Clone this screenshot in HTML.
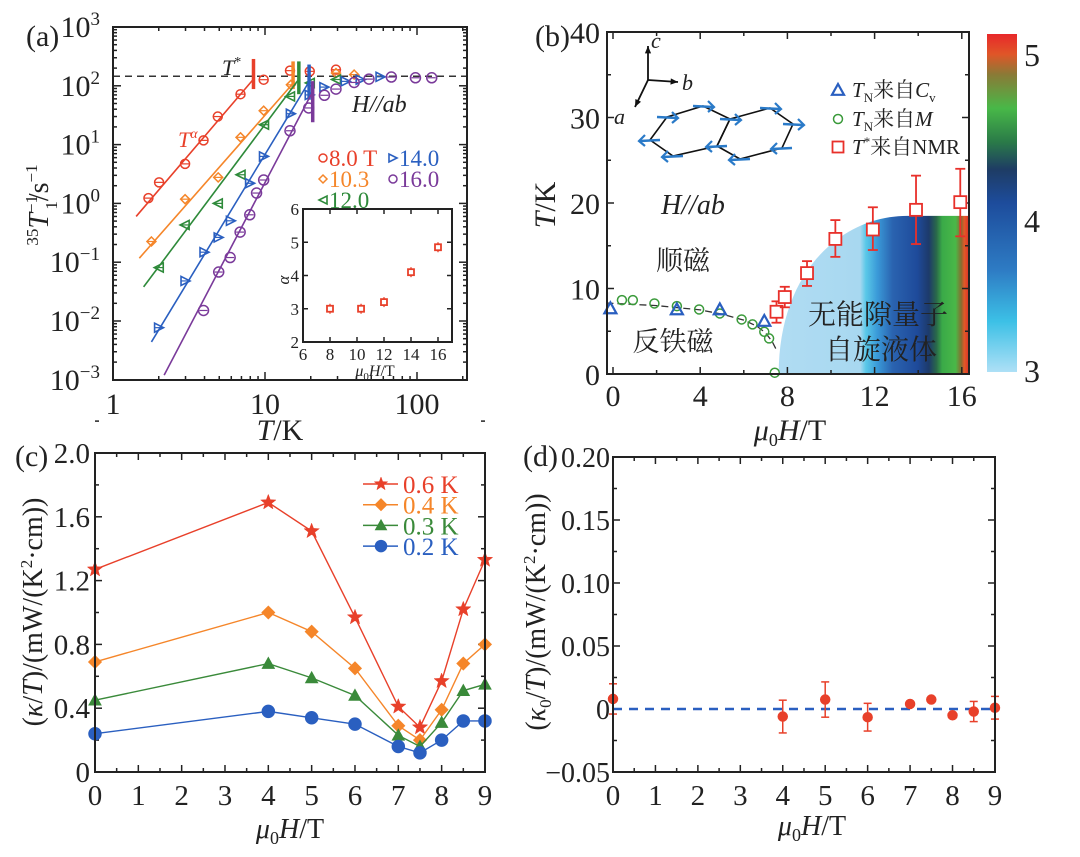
<!DOCTYPE html>
<html><head><meta charset="utf-8">
<style>
html,body{margin:0;padding:0;background:#fff;}
svg{display:block;}
text{font-family:"Liberation Serif","Noto Serif CJK SC",serif;}
</style></head>
<body>
<svg id="fig" width="1080" height="857" viewBox="0 0 1080 857" xmlns="http://www.w3.org/2000/svg">
<defs>
<linearGradient id="slg" gradientUnits="userSpaceOnUse" x1="778" y1="0" x2="969" y2="0">
<stop offset="0" stop-color="#b0dcf3"/><stop offset="0.43" stop-color="#a8d8f0"/>
<stop offset="0.46" stop-color="#5ac8e8"/><stop offset="0.52" stop-color="#3a9ad8"/>
<stop offset="0.60" stop-color="#2a63b0"/><stop offset="0.73" stop-color="#1e4a9a"/>
<stop offset="0.79" stop-color="#1d3a6a"/><stop offset="0.83" stop-color="#2a6a4a"/>
<stop offset="0.86" stop-color="#3aaa48"/><stop offset="0.93" stop-color="#4ab848"/>
<stop offset="0.96" stop-color="#8a6a30"/><stop offset="0.975" stop-color="#e05a28"/>
<stop offset="1" stop-color="#e03028"/>
</linearGradient>
<linearGradient id="cbg" x1="0" y1="1" x2="0" y2="0">
<stop offset="0" stop-color="#aee0f6"/><stop offset="0.15" stop-color="#3cc0e6"/>
<stop offset="0.3" stop-color="#2e7cc4"/><stop offset="0.5" stop-color="#1d4c9c"/>
<stop offset="0.6" stop-color="#1e3c64"/><stop offset="0.68" stop-color="#2a7a48"/>
<stop offset="0.78" stop-color="#48b848"/><stop offset="0.88" stop-color="#8a7a36"/>
<stop offset="0.94" stop-color="#e05628"/><stop offset="1" stop-color="#e8282a"/>
</linearGradient>
</defs>
</svg>
<script>
// ---------- Panel (a) data ----------
const aRedT=[1.71,2.01,2.98,3.94,4.89,6.9,9.8,14.6,19.7,29.3];
const aRedV=[1.23,2.28,4.7,11.8,30,72,127,181,176,188];
const aOrT=[1.79,2.98,4.92,6.9,9.8,14.8,29.3,38.6];
const aOrV=[0.225,1.18,2.77,13.3,37.7,104,165,155];
const aGrT=[2.0,2.96,4.89,6.9,9.85,14.6,19.7,29.3];
const aGrV=[0.081,0.43,1.0,3.07,21.8,66,112,128];
const aBlT=[2.01,3.0,4.0,4.96,5.97,7.98,9.85,14.8,19.7,24.6,34,42.6,57.6];
const aBlV=[0.0077,0.048,0.148,0.264,0.506,2.2,6.3,33.5,70,95,119,127,142];
const aPuT=[3.94,4.96,5.9,6.86,7.94,8.8,9.8,14.6,19.4,24.6,29.3,38.6,48.3,67.8,97.7,125];
const aPuV=[0.0151,0.068,0.12,0.325,0.64,1.5,2.5,17.2,42,69,88,114,130,141,137,137];
const aFitT0=[1.42,1.49,1.59,1.79,2.17];
const aFitV0=[0.6,0.117,0.038,0.0044,0.0012];
const aFitT1=[8.4,15.7,16.9,19.6,20.1];
const aFitV1=[130,119,135,120,71];
const aStarT=[8.4,15.3,16.7,19.5,20.6];
const aStarLo=[88,88,72,58,24];
const aStarHi=[286,260,260,230,120];
const aPlateau=145;
const inH=[8,10.3,12,14,16];
const inA=[3.0,3.0,3.2,4.1,4.85];
const inErr=[0.15,0.15,0.15,0.15,0.15];
// ---------- Panel (b) data ----------
const bCvH=[-0.12,2.93,4.9,6.94];
const bCvT=[7.67,7.55,7.55,6.2];
const bMH=[0.41,0.91,1.9,2.93,3.95,4.9,5.9,6.4,6.94,7.16,7.42];
const bMT=[8.64,8.64,8.25,7.94,7.55,7.08,6.38,5.8,4.94,4.16,0.15];
const bNH=[7.5,7.88,8.9,10.2,11.92,13.9,15.93];
const bNT=[7.28,9.0,11.8,15.8,16.9,19.2,20.1];
const bNLo=[6.0,7.8,10.3,13.7,14.5,15.2,16.1];
const bNHi=[8.5,10.2,13.2,18.0,19.5,23.2,24.0];
const bGuideH=[-0.3,2,4,5,6,6.6,7.0,7.3,7.5];
const bGuideT=[8.3,8.0,7.5,7.0,6.3,5.6,4.8,3.8,2.8];
// ---------- Panel (c) data ----------
const cH=[0,4,5,6,7,7.5,8,8.5,9];
const c06=[1.27,1.69,1.51,0.97,0.41,0.28,0.57,1.02,1.33];
const c04=[0.69,1.00,0.88,0.65,0.29,0.20,0.39,0.68,0.80];
const c03=[0.45,0.68,0.59,0.48,0.23,0.16,0.31,0.51,0.55];
const c02=[0.24,0.38,0.34,0.30,0.16,0.12,0.20,0.32,0.32];
const cLegend=["0.6 K","0.4 K","0.3 K","0.2 K"];
const cYTicks=["0","0.4","0.8","1.2","1.6","2.0"];
// ---------- Panel (d) data ----------
const dH=[0,4,5,6,7,7.5,8,8.5,9];
const dV=[0.008,-0.006,0.0075,-0.0065,0.004,0.0075,-0.005,-0.002,0.001];
const dE=[0.012,0.013,0.014,0.011,0.002,0.001,0.001,0.008,0.009];
const dYTicks=["\u22120.05","0","0.05","0.10","0.15","0.20"];

const svg=document.getElementById('fig');
const NS='http://www.w3.org/2000/svg';
const FONT='"Liberation Serif","Noto Serif CJK SC",serif';
function mk(tag,attrs,parent){
  const e=document.createElementNS(NS,tag);
  for(const k in attrs)e.setAttribute(k,attrs[k]);
  (parent||svg).appendChild(e);
  return e;
}
function named(e,n){
  
  
  return e;
}
function txt(x,y,s,size,opt,parent){
  opt=opt||{};
  const t=mk('text',{x:x,y:y,'font-size':size,fill:opt.fill||'#222','text-anchor':opt.anchor||'start','font-family':FONT},parent);
  if(opt.italic)t.setAttribute('font-style','italic');
  if(opt.rot)t.setAttribute('transform','rotate(-90 '+x+' '+y+')');
  t.innerHTML=s;
  return t;
}
function g(name){const e=mk('g',{});named(e,name);return e;}

const ax=T=>113+152*Math.log10(T), ay=v=>27+(3-Math.log10(v))*58.8;
const ix=h=>303+(h-6)*13.5, iy=a=>342-(a-2)*33.25;
const bx=h=>613+21.8*h, by=t=>374-8.55*t;
const cx=h=>95+43.33*h, cy=v=>772-159.5*v;
const dx=h=>613+42.44*h, dy=v=>772-(v+0.05)*1260;

function frame(x0,y0,x1,y1,name){
  const r=mk('rect',{x:x0,y:y0,width:x1-x0,height:y1-y0,fill:'none',stroke:'#222','stroke-width':2});
  named(r,name);
}
function tickX(px,y0,y1,len,par){mk('line',{x1:px,y1:y1,x2:px,y2:y1-len,stroke:'#222','stroke-width':1.5},par);mk('line',{x1:px,y1:y0,x2:px,y2:y0+len,stroke:'#222','stroke-width':1.5},par);}
function tickY(py,x0,x1,len,par){mk('line',{x1:x0,y1:py,x2:x0+len,y2:py,stroke:'#222','stroke-width':1.5},par);mk('line',{x1:x1,y1:py,x2:x1-len,y2:py,stroke:'#222','stroke-width':1.5},par);}

function marker(type,x,y,col,r,fill,par){
  let e;
  if(type==='circle')e=mk('circle',{cx:x,cy:y,r:r,fill:fill?col:'none',stroke:col,'stroke-width':1.5},par);
  else if(type==='square')e=mk('rect',{x:x-r,y:y-r,width:2*r,height:2*r,fill:fill?col:'#fff',stroke:col,'stroke-width':1.8},par);
  else if(type==='diamond')e=mk('polygon',{points:`${x},${y-r} ${x+r},${y} ${x},${y+r} ${x-r},${y}`,fill:fill?col:'none',stroke:col,'stroke-width':1.5},par);
  else if(type==='tri')e=mk('polygon',{points:`${x},${y-r} ${x+r},${y+r*0.8} ${x-r},${y+r*0.8}`,fill:fill?col:'none',stroke:col,'stroke-width':fill?1:2.2},par);
  else if(type==='left')e=mk('polygon',{points:`${x-r},${y} ${x+r},${y-r} ${x+r},${y+r}`,fill:fill?col:'none',stroke:col,'stroke-width':1.6},par);
  else if(type==='right')e=mk('polygon',{points:`${x+r},${y} ${x-r},${y-r} ${x-r},${y+r}`,fill:fill?col:'none',stroke:col,'stroke-width':1.6},par);
  else if(type==='star'){let p=[];for(let i=0;i<10;i++){const a=-Math.PI/2+i*Math.PI/5,rr=i%2?r*0.42:r;p.push((x+rr*Math.cos(a)).toFixed(1)+','+(y+rr*Math.sin(a)).toFixed(1));}e=mk('polygon',{points:p.join(' '),fill:col,stroke:col,'stroke-width':0.5},par);}
  return e;
}

// ================= Panel (a) =================
{
const P=g('panel-a');
txt(26,46,'(a)',30,{},P);
frame(113,27,467,380,'panel-a-frame');
const dec=[-3,-2,-1,0,1,2,3];
dec.forEach(d=>{
  const py=ay(Math.pow(10,d));
  const l=txt(100,py+10,'10<tspan dy="-12" font-size="19">'+(d<0?'\u2212'+(-d):d)+'</tspan>',30,{anchor:'end'},P);
  named(l,'y-tick-label');
  tickY(py,113,467,8,P);
  if(d<3)for(let m=2;m<10;m++)tickY(ay(m*Math.pow(10,d)),113,467,4,P);
});
[1,10,100].forEach(T=>{const l=txt(ax(T),414,String(T),30,{anchor:'middle'},P);named(l,'x-tick-label');tickX(ax(T),27,380,8,P);});
for(let d=0;d<3;d++)for(let m=2;m<10;m++){const T=m*Math.pow(10,d);if(T<213)tickX(ax(T),27,380,4,P);}
named(txt(280,440,'<tspan font-style="italic">T</tspan>/K',30,{anchor:'middle'},P),'x-axis-title');
named(txt(48,205,'<tspan dy="-10" font-size="17">35</tspan><tspan dy="10" font-style="italic">T</tspan><tspan dy="-11" font-size="17">\u22121</tspan><tspan dx="-14" dy="20" font-size="17">1</tspan><tspan dy="-9">/s</tspan><tspan dy="-11" font-size="17">\u22121</tspan>',28,{anchor:'middle',rot:true},P),'y-axis-title');
named(mk('line',{x1:113,y1:ay(aPlateau),x2:467,y2:ay(aPlateau),stroke:'#333','stroke-width':1.5,'stroke-dasharray':'7,5'},P),'plateau-dashed-line');
const cols=['#e8402a','#f5862a','#2e8a3a','#2a5fc0','#7a3a9a'];
const series=[[aRedT,aRedV,'circle'],[aOrT,aOrV,'diamond'],[aGrT,aGrV,'left'],[aBlT,aBlV,'right'],[aPuT,aPuV,'circle']];
const names=['8T','10.3T','12T','14T','16T'];
for(let i=0;i<5;i++){
  const fl=mk('line',{x1:ax(aFitT0[i]),y1:ay(aFitV0[i]),x2:ax(aFitT1[i]),y2:ay(aFitV1[i]),stroke:cols[i],'stroke-width':1.6},P);
  named(fl,'fit-line-'+names[i]);
  const st=mk('line',{x1:ax(aStarT[i]),y1:ay(aStarLo[i]),x2:ax(aStarT[i]),y2:ay(aStarHi[i]),stroke:cols[i],'stroke-width':3.5},P);
  named(st,'tstar-marker-'+names[i]);
  const [T,V,ty]=series[i];
  for(let j=0;j<T.length;j++){
    const x=ax(T[j]),y=ay(V[j]);
    const m=marker(ty,x,y,cols[i],i==4?5:4.5,false,P);
    named(m,'point-'+names[i]);
    mk('line',{x1:x-4,y1:y,x2:x+4,y2:y,stroke:cols[i],'stroke-width':1.2},P);
  }
}
named(txt(222,75,'<tspan font-style="italic">T</tspan><tspan dy="-9" font-size="14">*</tspan>',22,{},P),'tstar-label');
named(txt(178,147,'<tspan font-style="italic">T</tspan><tspan dy="-9" font-size="14" font-style="italic">\u03b1</tspan>',22,{fill:'#e8402a'},P),'power-law-label');
named(txt(352,112,'H//ab',24,{italic:true},P),'field-direction-label');
const lg=[['8.0 T',329,158,cols[0],'circle'],['10.3',329,179,cols[1],'diamond'],['12.0',329,200,cols[2],'left'],['14.0',399,158,cols[3],'right'],['16.0',399,179,cols[4],'circle']];
lg.forEach(l=>{marker(l[4],l[1]-6,l[2],l[3],4,false,P);named(txt(l[1],l[2]+8,l[0],23,{fill:l[3]},P),'legend-entry');});
// inset
frame(303,209,452,342,'inset-frame');
[2,3,4,5,6].forEach(a=>{named(txt(299,iy(a)+6,String(a),17,{anchor:'end'},P),'inset-y-tick-label');tickY(iy(a),303,452,5,P);});
[6,8,10,12,14,16].forEach(h=>{named(txt(ix(h),360,String(h),17,{anchor:'middle'},P),'inset-x-tick-label');tickX(ix(h),209,342,5,P);});
named(txt(375,376,'<tspan font-style="italic">\u03bc</tspan><tspan font-size="11" dy="4">0</tspan><tspan dy="-4" font-style="italic">H</tspan>/T',16,{anchor:'middle'},P),'inset-x-title');
named(txt(289,280,'\u03b1',17,{italic:true,rot:true,anchor:'middle'},P),'inset-y-title');
for(let i=0;i<inH.length;i++){
  const x=ix(inH[i]),y=iy(inA[i]);
  mk('line',{x1:x,y1:iy(inA[i]-inErr[i]),x2:x,y2:iy(inA[i]+inErr[i]),stroke:'#e8402a','stroke-width':1.3},P);
  named(marker('square',x,y,'#e8402a',3,false,P),'inset-alpha-point');
}
}

// ================= Panel (b) =================
{
const P=g('panel-b');
txt(535,46,'(b)',30,{},P);
const sl=mk('path',{d:`M${bx(7.6)},${by(0)} C${bx(7.6)},${by(12)} ${bx(10.5)},${by(18.5)} ${bx(13.5)},${by(18.5)} L${bx(16.3)},${by(18.5)} L${bx(16.3)},${by(0)} Z`,fill:'url(#slg)'},P);
named(sl,'spin-liquid-region');
frame(607,32,969,374,'panel-b-frame');
[0,10,20,30,40].forEach(t=>{named(txt(600,by(t)+11,String(t),30,{anchor:'end'},P),'y-tick-label');tickY(by(t),607,969,7,P);});
[5,15,25,35].forEach(t=>tickY(by(t),607,969,4,P));
[0,4,8,12,16].forEach(h=>{named(txt(bx(h),406,String(h),30,{anchor:'middle'},P),'x-tick-label');tickX(bx(h),32,374,7,P);});
[2,6,10,14].forEach(h=>tickX(bx(h),32,374,4,P));
named(txt(790,440,'<tspan font-style="italic">\u03bc</tspan><tspan font-size="18" dy="6">0</tspan><tspan dy="-6" font-style="italic">H</tspan>/T',30,{anchor:'middle'},P),'x-axis-title');
named(txt(555,205,'<tspan font-style="italic">T</tspan>/K',30,{anchor:'middle',rot:true},P),'y-axis-title');
named(mk('polyline',{points:bGuideH.map((h,i)=>bx(h)+','+by(bGuideT[i])).join(' '),fill:'none',stroke:'#333','stroke-width':1.3,'stroke-dasharray':'7,4'},P),'afm-boundary');
for(let i=0;i<bMH.length;i++)named(marker('circle',bx(bMH[i]),by(bMT[i]),'#3a9a3a',4.5,false,P),'tn-from-m-point');
for(let i=0;i<bCvH.length;i++)named(marker('tri',bx(bCvH[i]),by(bCvT[i]),'#2a5fc0',6,false,P),'tn-from-cv-point');
for(let i=0;i<bNH.length;i++){
  const x=bx(bNH[i]);
  mk('line',{x1:x,y1:by(bNLo[i]),x2:x,y2:by(bNHi[i]),stroke:'#e8302a','stroke-width':1.8},P);
  mk('line',{x1:x-5,y1:by(bNLo[i]),x2:x+5,y2:by(bNLo[i]),stroke:'#e8302a','stroke-width':1.8},P);
  mk('line',{x1:x-5,y1:by(bNHi[i]),x2:x+5,y2:by(bNHi[i]),stroke:'#e8302a','stroke-width':1.8},P);
  named(marker('square',x,by(bNT[i]),'#e8302a',6,false,P),'tstar-nmr-point');
}
const ar=(x1,y1,x2,y2)=>{mk('line',{x1,y1,x2,y2,stroke:'#111','stroke-width':1.8},P);const a=Math.atan2(y2-y1,x2-x1);mk('polygon',{points:`${x2},${y2} ${x2-8*Math.cos(a-0.4)},${y2-8*Math.sin(a-0.4)} ${x2-8*Math.cos(a+0.4)},${y2-8*Math.sin(a+0.4)}`,fill:'#111'},P);};
ar(648,80,648,46);ar(648,80,678,82);ar(648,80,635,107);
txt(651,48,'c',22,{italic:true},P);txt(682,90,'b',22,{italic:true},P);txt(614,124,'a',22,{italic:true},P);
const h1=[[667,117],[703,106],[730,119],[717,146],[673,156],[650,140]];
const h2=[[730,119],[770,108],[793,124],[782,148],[740,159],[717,146]];
[h1,h2].forEach(h=>named(mk('polygon',{points:h.map(p=>p.join(',')).join(' '),fill:'none',stroke:'#111','stroke-width':1.6},P),'honeycomb-lattice'));
const spins=[[667,117,1],[703,106,1],[730,119,1],[770,108,1],[793,124,1],[650,140,-1],[717,146,-1],[673,156,-1],[740,159,-1],[782,148,-1]];
spins.forEach(s=>{const x=s[0],y=s[1],d=s[2];mk('line',{x1:x-10*d,y1:y,x2:x+10*d,y2:y+1,stroke:'#2a7ac8','stroke-width':2.5},P);mk('polyline',{points:`${x+5*d},${y-5} ${x+11*d},${y+1} ${x+5*d},${y+6}`,fill:'none',stroke:'#2a7ac8','stroke-width':2.2},P);});
named(marker('tri',838,90,'#2a5fc0',6,false,P),'legend-cv-marker');
named(txt(852,97,'<tspan font-style="italic">T</tspan><tspan font-size="13" dy="5">N</tspan><tspan dy="-5">来自</tspan><tspan font-style="italic">C</tspan><tspan font-size="13" dy="5">v</tspan>',21,{},P),'legend-entry');
named(marker('circle',838,119,'#3a9a3a',4.5,false,P),'legend-m-marker');
named(txt(852,126,'<tspan font-style="italic">T</tspan><tspan font-size="13" dy="5">N</tspan><tspan dy="-5">来自</tspan><tspan font-style="italic">M</tspan>',21,{},P),'legend-entry');
named(marker('square',838,147,'#e8302a',5.5,false,P),'legend-nmr-marker');
named(txt(852,154,'<tspan font-style="italic">T</tspan><tspan font-size="13" dy="-8">*</tspan><tspan dy="8">来自NMR</tspan>',21,{},P),'legend-entry');
named(txt(693,214,'H//ab',28,{italic:true,anchor:'middle'},P),'field-direction-label');
named(txt(683,270,'顺磁',27,{anchor:'middle'},P),'paramagnetic-label');
named(txt(673,351,'反铁磁',27,{anchor:'middle'},P),'antiferromagnetic-label');
named(txt(878,324,'无能隙量子',28,{anchor:'middle'},P),'qsl-label');
named(txt(881,359,'自旋液体',28,{anchor:'middle'},P),'qsl-label-2');
named(mk('rect',{x:987,y:34,width:30,height:338,fill:'url(#cbg)'},P),'colorbar');
[['5',56],['4',222],['3',372]].forEach(c=>named(txt(1024,c[1]+10,c[0],32,{},P),'colorbar-tick-label'));
}

// ================= Panel (c) =================
{
const P=g('panel-c');
txt(15,466,'(c)',30,{},P);
frame(95,453,485,772,'panel-c-frame');
cYTicks.forEach((s,i)=>{const v=i*0.4;named(txt(90,cy(v)+10,s,29,{anchor:'end'},P),'y-tick-label');tickY(cy(v),95,485,7,P);tickY(cy(v+0.2),95,485,4,P);});
for(let h=0;h<=9;h++){named(txt(cx(h),805,String(h),29,{anchor:'middle'},P),'x-tick-label');tickX(cx(h),453,772,7,P);if(h<9)tickX(cx(h+0.5),453,772,4,P);}
named(txt(290,838,'<tspan font-style="italic">\u03bc</tspan><tspan font-size="18" dy="6">0</tspan><tspan dy="-6" font-style="italic">H</tspan>/T',28,{anchor:'middle'},P),'x-axis-title');
named(txt(42,612,'(<tspan font-style="italic">\u03ba</tspan>/<tspan font-style="italic">T</tspan>)/(mW/(K<tspan dy="-10" font-size="17">2</tspan><tspan dy="10">\u00b7cm))</tspan>',28,{anchor:'middle',rot:true},P),'y-axis-title');
const S=[[c06,'#e8402a','star','0.6K'],[c04,'#f5862a','diamond','0.4K'],[c03,'#3a8a3a','tri','0.3K'],[c02,'#2a5fc0','circle','0.2K']];
S.forEach((s,k)=>{
  const pl=mk('polyline',{points:cH.map((h,i)=>cx(h)+','+cy(s[0][i])).join(' '),fill:'none',stroke:s[1],'stroke-width':1.4},P);
  named(pl,'line-'+s[3]);
  cH.forEach((h,i)=>named(marker(s[2],cx(h),cy(s[0][i]),s[1],s[2]==='star'?8:6,true,P),'point-'+s[3]));
  const ly=484+k*20.7;
  mk('line',{x1:363,y1:ly,x2:398,y2:ly,stroke:s[1],'stroke-width':1.5},P);
  marker(s[2],381,ly,s[1],s[2]==='star'?7:5.5,true,P);
  named(txt(403,ly+9,cLegend[k],25,{fill:s[1]},P),'legend-entry');
});
}

// ================= Panel (d) =================
{
const P=g('panel-d');
txt(523,466,'(d)',30,{},P);
frame(613,457,995,772,'panel-d-frame');
dYTicks.forEach((s,i)=>{const v=-0.05+i*0.05;named(txt(610,dy(v)+10,s,28,{anchor:'end'},P),'y-tick-label');tickY(dy(v),613,995,7,P);if(i<5)tickY(dy(v+0.025),613,995,4,P);});
for(let h=0;h<=9;h++){named(txt(dx(h),805,String(h),29,{anchor:'middle'},P),'x-tick-label');tickX(dx(h),457,772,7,P);if(h<9)tickX(dx(h+0.5),457,772,4,P);}
named(txt(812,835,'<tspan font-style="italic">\u03bc</tspan><tspan font-size="18" dy="6">0</tspan><tspan dy="-6" font-style="italic">H</tspan>/T',28,{anchor:'middle'},P),'x-axis-title');
named(txt(545,612,'(<tspan font-style="italic">\u03ba</tspan><tspan font-size="17" dy="6">0</tspan><tspan dy="-6">/</tspan><tspan font-style="italic">T</tspan>)/(mW/(K<tspan dy="-10" font-size="17">2</tspan><tspan dy="10">\u00b7cm))</tspan>',28,{anchor:'middle',rot:true},P),'y-axis-title');
named(mk('line',{x1:613,y1:dy(0),x2:995,y2:dy(0),stroke:'#2a5fc0','stroke-width':2.5,'stroke-dasharray':'9,7'},P),'zero-dashed-line');
for(let i=0;i<dH.length;i++){
  const x=dx(dH[i]);
  const lo=dy(dV[i]-dE[i]),hi=dy(dV[i]+dE[i]);
  mk('line',{x1:x,y1:lo,x2:x,y2:hi,stroke:'#e8402a','stroke-width':1.5},P);
  mk('line',{x1:x-4,y1:lo,x2:x+4,y2:lo,stroke:'#e8402a','stroke-width':1.5},P);
  mk('line',{x1:x-4,y1:hi,x2:x+4,y2:hi,stroke:'#e8402a','stroke-width':1.5},P);
  named(marker('circle',x,dy(dV[i]),'#e8402a',4.5,true,P),'kappa0-point');
}
}
</script>
</body></html>
